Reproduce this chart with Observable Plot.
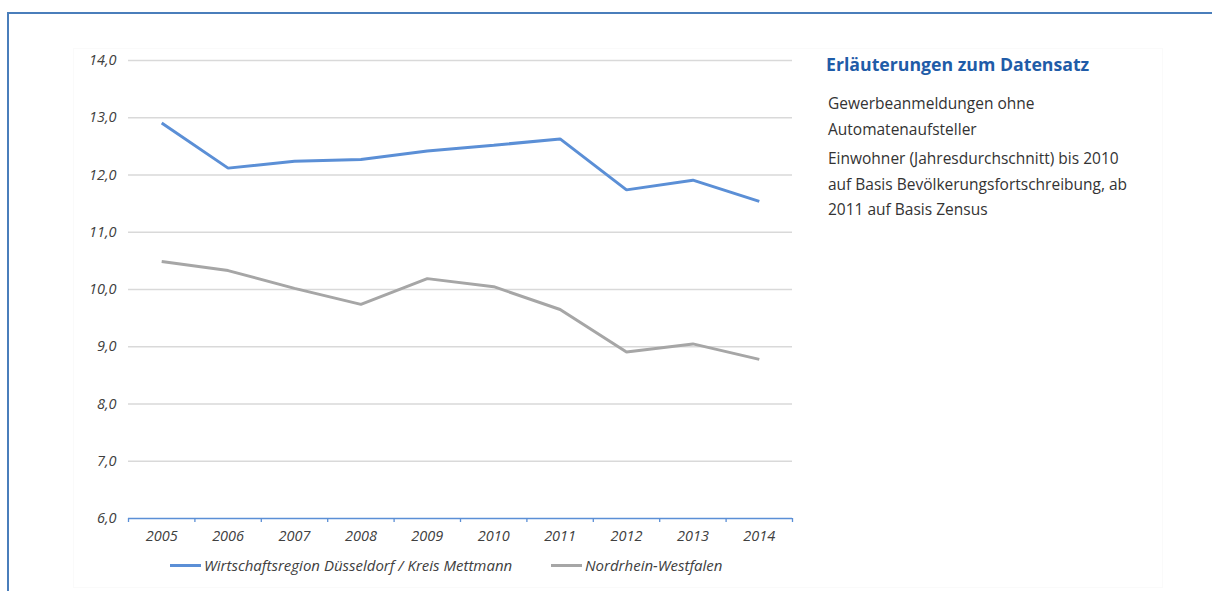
<!DOCTYPE html>
<html>
<head>
<meta charset="utf-8">
<script src="https://cdn.jsdelivr.net/npm/d3@7"></script>
<script src="https://cdn.jsdelivr.net/npm/@observablehq/plot@0.6"></script>
<style>
  html, body { margin: 0; padding: 0; background: #fff; }
  body { width: 1212px; height: 591px; position: relative; overflow: hidden; font-family: "Open Sans", "Noto Sans", sans-serif; }
  #frameTop { position: absolute; left: 7px; top: 12px; width: 1205px; height: 2px; background: #4a7ebb; }
  #frameLeft { position: absolute; left: 7px; top: 12px; width: 2px; height: 579px; background: #4a7ebb; }
  #panel { position: absolute; left: 73px; top: 48px; width: 1088px; height: 538px; border: 1px solid #fafafa; }
  #chart { position: absolute; left: 60px; top: 40px; }
  #legend { position: absolute; left: 0; top: 555px; width: 1212px; height: 22px; font-style: italic; font-size: 15px; color: #404040; }
  .lg { position: absolute; top: 0; display: flex; align-items: center; white-space: nowrap; }
  .sw { display: inline-block; width: 31px; height: 3px; margin-right: 3px; }
  #notes { position: absolute; left: 826px; top: 52px; width: 380px; color: #333; }
  #notes h2 { margin: 0 0 15px 0; font-size: 17.7px; font-weight: 700; color: #1f5ca8; }
  #notes p { margin: 0 0 4px 2px; font-size: 15.5px; line-height: 25.5px; }
</style>
</head>
<body>
<div id="frameTop"></div>
<div id="frameLeft"></div>
<div id="panel"></div>
<div id="chart"></div>
<div id="legend"></div>
<div id="notes">
  <h2>Erläuterungen zum Datensatz</h2>
  <p>Gewerbeanmeldungen ohne<br>Automatenaufsteller</p>
  <p>Einwohner (Jahresdurchschnitt) bis 2010<br>auf Basis Bevölkerungsfortschreibung, ab<br>2011 auf Basis Zensus</p>
</div>
<script>
const years = [2005, 2006, 2007, 2008, 2009, 2010, 2011, 2012, 2013, 2014];
const duesseldorfMettmann = [12.91, 12.12, 12.24, 12.27, 12.42, 12.52, 12.63, 11.74, 11.91, 11.54];
const nordrheinWestfalen = [10.49, 10.33, 10.02, 9.74, 10.19, 10.05, 9.65, 8.91, 9.05, 8.78];
const seriesNames = ["Wirtschaftsregion Düsseldorf / Kreis Mettmann", "Nordrhein-Westfalen"];
const seriesColors = ["#5b8fd6", "#a6a6a6"];
const yTicks = [6, 7, 8, 9, 10, 11, 12, 13, 14];

const rows = [];
years.forEach((y, i) => rows.push({year: y, value: duesseldorfMettmann[i], series: seriesNames[0]}));
years.forEach((y, i) => rows.push({year: y, value: nordrheinWestfalen[i], series: seriesNames[1]}));

const boundaries = [years[0] - 0.5, ...years.map(y => y + 0.5)];
const fmtY = d => d.toFixed(1).replace(".", ",");

const chart = Plot.plot({
  width: 750,
  height: 508,
  marginLeft: 68,
  marginRight: 18,
  marginTop: 20,
  marginBottom: 30,
  style: {fontFamily: '"Open Sans", "Noto Sans", sans-serif', fontSize: "14.5px", color: "#404040", background: "transparent", overflow: "visible"},
  x: {domain: [years[0] - 0.5, years[years.length - 1] + 0.5]},
  y: {domain: [6, 14]},
  color: {domain: seriesNames, range: seriesColors},
  marks: [
    Plot.gridY(yTicks.filter(d => d > 6), {stroke: "#d9d9d9", strokeOpacity: 1, strokeWidth: 1.6}),
    Plot.axisY(yTicks, {tickSize: 0, tickPadding: 12, tickFormat: fmtY, fontStyle: "italic", fontSize: 14.5, fill: "#404040", label: null}),
    Plot.ruleY([6], {stroke: "#5b8fd6", strokeWidth: 1.3}),
    Plot.axisX(boundaries, {tickSize: 4, tickFormat: () => "", stroke: "#5b8fd6", strokeWidth: 1.3, label: null}),
    Plot.axisX(years, {tickSize: 0, tickPadding: 12, tickFormat: d => String(d), fontStyle: "italic", fontSize: 14.5, fill: "#404040", label: null}),
    Plot.line(rows, {x: "year", y: "value", z: "series", stroke: "series", strokeWidth: 3, strokeLinejoin: "miter", strokeLinecap: "butt"})
  ]
});
document.getElementById("chart").appendChild(chart);

const legend = document.getElementById("legend");
const legendX = [170, 551];
seriesNames.forEach((name, i) => {
  const item = document.createElement("div");
  item.className = "lg";
  item.style.left = legendX[i] + "px";
  const sw = document.createElement("span");
  sw.className = "sw";
  sw.style.background = seriesColors[i];
  const tx = document.createElement("span");
  tx.textContent = name;
  item.appendChild(sw);
  item.appendChild(tx);
  legend.appendChild(item);
});
</script>
</body>
</html>
